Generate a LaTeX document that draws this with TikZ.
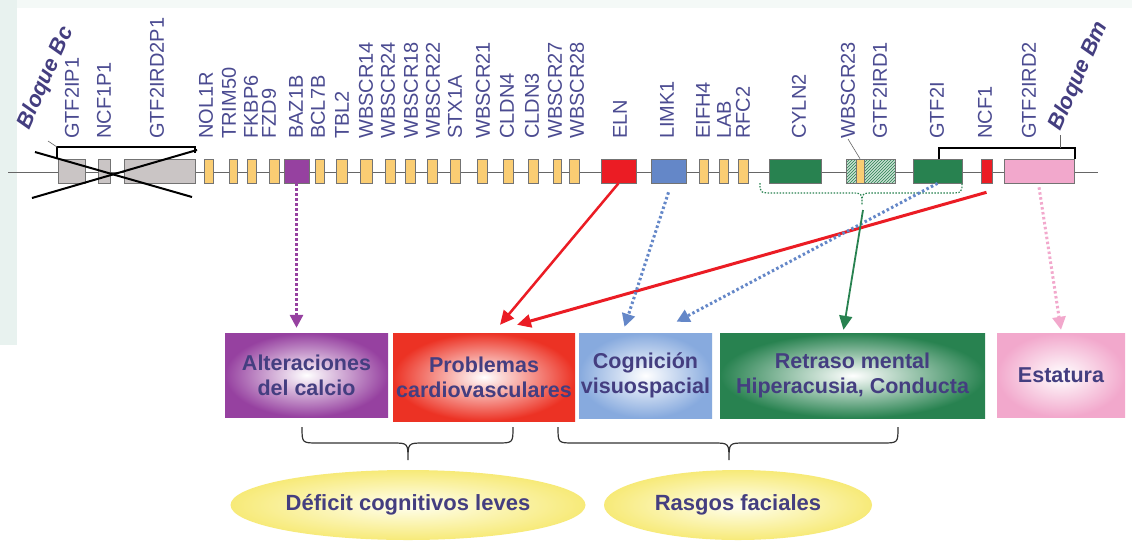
\documentclass[tikz,border=0pt]{standalone}
\usepackage{fontspec}
\setmainfont{Liberation Sans}
\usetikzlibrary{shapes.geometric, arrows.meta, patterns, positioning}
\definecolor{genetext}{RGB}{75,75,145}
\definecolor{boxtext}{RGB}{68,62,128}
\definecolor{yelgene}{RGB}{250,205,115}
\definecolor{greygene}{RGB}{202,197,197}
\definecolor{bazpurple}{RGB}{150,65,160}
\definecolor{elnred}{RGB}{235,28,36}
\definecolor{limkblue}{RGB}{100,135,200}
\definecolor{cylgreen}{RGB}{40,130,80}
\definecolor{ncfpink}{RGB}{242,168,204}
\definecolor{phenblue}{RGB}{135,170,222}
\definecolor{phenred}{RGB}{236,50,36}
\definecolor{ellyellow}{RGB}{247,234,120}
\definecolor{bgteal}{RGB}{232,242,239}

\tikzset{
  genebox/.style={draw=black!55, line width=0.6pt, minimum height=24pt, inner sep=0pt},
  genelabel/.style={rotate=90, anchor=west, inner sep=0pt, text=genetext, font=\fontsize{20}{22}\selectfont},
  bloque/.style={rotate=66, inner sep=0pt, text=boxtext, font=\fontsize{22}{24}\selectfont\bfseries\itshape},
  phenbox/.style={inner sep=0pt, align=center, text=boxtext, font=\fontsize{21.5}{25}\selectfont\bfseries},
  trait/.style={ellipse, inner sep=0pt, text=boxtext, font=\fontsize{22}{24}\selectfont\bfseries, inner color=yellow!6, outer color=ellyellow},
  bracket/.style={line width=2.5pt, black},
  solidlink/.style={-{Triangle[length=14pt,width=13pt]}, line width=2.5pt},
  dotlink/.style={-{Triangle[length=13pt,width=13pt]}, line width=3pt, dash pattern=on 2.5pt off 2.5pt}
}

\begin{document}
\begin{tikzpicture}[x=1pt, y=-1pt]
  \useasboundingbox (0,0) rectangle (1132,547);
  \fill[white] (0,0) rectangle (1132,547);
  \fill[bgteal] (0,0) rectangle (17,345);
  \fill[bgteal!50] (17,0) rectangle (1132,8);

  % chromosome line
  \draw[black!60, line width=0.7pt] (8,172) -- (1098,172);

  % deleted block Bc
  \foreach \a/\b/\n in {58/85/gtfipa, 98/110/ncfpa, 124/195/gtfirdpa}
    \node[genebox, fill=greygene, minimum width={(\b-\a)*1pt}] (\n) at ({(\a+\b)/2},171) {};

  % yellow genes
  \foreach \a/\b [count=\i] in {204/213, 229/237, 247/256, 269/279, 315/324, 336/347, 360/372, 385/395,
      405/415, 427/437, 450/460, 477/487, 503/513, 528/538, 553/561, 569/579, 699/708, 719/728, 738/748}
    \node[genebox, fill=yelgene, minimum width={(\b-\a)*1pt}] (y\i) at ({(\a+\b)/2},171) {};

  % coloured genes
  \node[genebox, fill=bazpurple, minimum width=25pt] (baz) at (296.5,171) {};
  \node[genebox, fill=elnred, minimum width=35pt] (eln) at (618.5,171) {};
  \node[genebox, fill=limkblue, minimum width=35pt] (limk) at (668.5,171) {};
  \node[genebox, fill=cylgreen, minimum width=52pt] (cyln) at (795,171) {};
  \node[genebox, preaction={fill=cylgreen!25}, pattern=north east lines, pattern color=cylgreen, minimum width=49pt] (gtfird) at (870.5,171) {};
  \node[genebox, fill=yelgene, minimum width=8pt] (wbscr) at (860,171) {};
  \node[genebox, fill=cylgreen, minimum width=49pt] (gtfi) at (937.5,171) {};
  \node[genebox, fill=elnred, minimum width=11pt] (ncf) at (986.5,171) {};
  \node[genebox, fill=ncfpink, minimum width=70pt] (gtfirdd) at (1039,171) {};

  % cross over Bc
  \draw[line width=2pt] (35,152) -- (192,197);
  \draw[line width=2pt] (32,198) -- (197,150);

  % block brackets
  \draw[bracket] (57,158) -- (57,147) -- (195,147) -- (195,153);
  \draw[bracket] (939,159) -- (939,148) -- (1075,148) -- (1075,159);
  \draw[black!60, line width=0.6pt] (48,141) -- (57,147);
  \draw[black!60, line width=0.6pt] (1060,135) -- (1060,148);
  \node[bloque] (bc) at (46,78) {Bloque Bc};
  \node[bloque] (bm) at (1079,76) {Bloque Bm};

  % gene labels
  \foreach \x/\name in {72/GTF2IP1, 104/NCF1P1, 157/GTF2IRD2P1, 206/NOL1R, 229/TRIM50, 251/FKBP6,
      269/FZD9, 296/BAZ1B, 318/BCL7B, 342/TBL2, 366/WBSCR14, 388/WBSCR24, 411/WBSCR18, 433/WBSCR22,
      455/STX1A, 483/WBSCR21, 507/CLDN4, 532/CLDN3, 555/WBSCR27, 577/WBSCR28, 620/ELN, 667/LIMK1,
      703/EIFH4, 724/LAB, 743/RFC2, 799/CYLN2, 848/WBSCR23, 880/GTF2IRD1, 937/GTF2I, 985/NCF1,
      1029/GTF2IRD2}
    \node[genelabel] (lab-\name) at (\x,139) {\name};
  \draw[black!60, line width=0.6pt] (lab-WBSCR23.west) -- (wbscr.north);

  % green dotted brace under CYLN2 ... GTF2I
  \draw[cylgreen, line width=1.2pt, dash pattern=on 1.5pt off 1.5pt]
    (760,183) .. controls (760,193) .. (775,193) -- (850,193) .. controls (862,193) .. (862,205)
    .. controls (862,193) .. (874,193) -- (948,193) .. controls (962,193) .. (962,183);
  \coordinate (gtip) at (863,210);

  % phenotype boxes
  \node[phenbox, minimum width=163pt, minimum height=84pt, inner color=white, outer color=bazpurple] (calc) at (306.5,375) {Alteraciones\\del calcio};
  \node[phenbox, minimum width=182pt, minimum height=88pt, inner color=white, outer color=phenred] (cardio) at (484,377) {Problemas\\cardiovasculares};
  \node[phenbox, minimum width=133pt, minimum height=85pt, inner color=white, outer color=phenblue] (cogn) at (645.5,375.5) {Cognición\\visuospacial};
  \node[phenbox, minimum width=265pt, minimum height=85pt, inner color=white, outer color=cylgreen] (retraso) at (852.5,375.5) {Retraso mental\\Hiperacusia, Conducta};
  \node[phenbox, minimum width=128pt, minimum height=84pt, inner color=white, outer color=ncfpink] (estat) at (1061,375) {Estatura};

  % gene to phenotype arrows
  \draw[dotlink, bazpurple] (baz.south) -- ([xshift=-10pt, yshift=5pt]calc.north);
  \draw[solidlink, elnred] (eln.south) -- ([xshift=16pt, yshift=8pt]cardio.north);
  \draw[solidlink, elnred, line width=3pt] ([yshift=-9pt]ncf.south) -- ([xshift=33pt, yshift=8pt]cardio.north);
  \draw[dotlink, limkblue] ([yshift=-9pt]limk.south) -- ([xshift=-21pt, yshift=6pt]cogn.north);
  \draw[dotlink, limkblue] (gtfi.south) -- ([xshift=31pt, yshift=11pt]cogn.north);
  \draw[solidlink, cylgreen, line width=1.8pt] (gtip) -- ([xshift=-9pt, yshift=3pt]retraso.north);
  \draw[dotlink, ncfpink] ([yshift=-4pt]gtfirdd.south) -- ([yshift=3pt]estat.north);

  % lower braces
  \draw[black!80, line width=1.2pt] (302,427) .. controls (302,443) .. (318,443) -- (392,443)
    .. controls (408,443) .. (408,460) .. controls (408,443) .. (424,443) -- (497,443)
    .. controls (513,443) .. (513,427);
  \draw[black!80, line width=1.2pt] (558,427) .. controls (558,443) .. (574,443) -- (713,443)
    .. controls (729,443) .. (729,460) .. controls (729,443) .. (745,443) -- (882,443)
    .. controls (898,443) .. (898,427);

  % grouped traits
  \node[trait, minimum width=355pt, minimum height=70pt] (defi) at (408,505) {Déficit cognitivos leves};
  \node[trait, minimum width=268pt, minimum height=70pt] (rasgos) at (738,505) {Rasgos faciales};
\end{tikzpicture}
\end{document}
